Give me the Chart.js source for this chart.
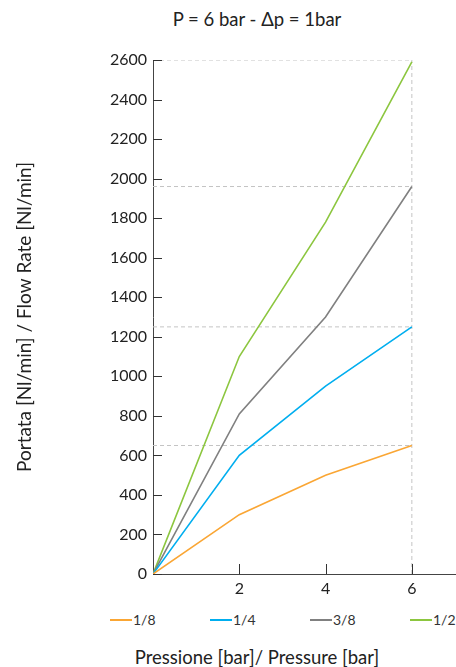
<!DOCTYPE html>
<html>
<head>
<meta charset="utf-8">
<script src="https://cdn.jsdelivr.net/npm/chart.js@4/dist/chart.umd.min.js"></script>
<style>
  body { margin: 0; background: #fff; font-family: Lato, sans-serif; color: #333; }
  #wrap { position: relative; width: 456px; height: 667px; }
  #chartBox { position: absolute; left: 0; top: 0; width: 456px; height: 600px; }
  #title { position: absolute; top: 8px; left: 157px; width: 200px; text-align: center; font-size: 18.5px; white-space: nowrap; color: #222; }
  #legend { position: absolute; top: 611px; left: 0; width: 456px; height: 18px; font-size: 14px; }
  #legend .item { position: absolute; top: 0; display: flex; align-items: center; }
  #legend .swatch { width: 22px; height: 2px; margin-right: 1px; }
  #xTitle { position: absolute; top: 646px; left: 107px; width: 300px; text-align: center; font-size: 18.5px; white-space: nowrap; color: #222; }
</style>
</head>
<body>
<div id="wrap">
  <div id="title">P = 6 bar - Δp = 1bar</div>
  <div id="chartBox"><canvas id="chart"></canvas></div>
  <div id="legend"></div>
  <div id="xTitle">Pressione [bar]/ Pressure [bar]</div>
</div>
<script>
// pressure [bar] on x
const pressures = [0, 2, 4, 6];
const xTicks = [2, 4, 6];

// flow rate [Nl/min] per connection size
const seriesNames = ['1/8', '1/4', '3/8', '1/2'];
const flow18 = [0, 300, 500, 650];
const flow14 = [0, 600, 950, 1250];
const flow38 = [0, 810, 1300, 1960];
const flow12 = [0, 1100, 1780, 2590];
const seriesColors = ['#FAA634', '#00AEEF', '#808080', '#8CC63F'];

// dashed guide lines at the end values
const refLevels = [650, 1250, 1960, 2600];
const refPressure = 6;

const allFlows = [flow18, flow14, flow38, flow12];

const datasets = allFlows.map((vals, i) => ({
  label: seriesNames[i],
  data: pressures.map((p, j) => ({ x: p, y: vals[j] })),
  borderColor: seriesColors[i],
  borderWidth: 1.6,
  pointRadius: 0,
  tension: 0,
  order: 0
}));

// horizontal guides
refLevels.forEach(level => {
  datasets.push({
    label: 'ref',
    data: [{ x: 0, y: level }, { x: refPressure, y: level }],
    borderColor: '#c4c4c4',
    borderWidth: 1,
    borderDash: [4, 3],
    pointRadius: 0,
    order: 1
  });
});
// vertical guide
datasets.push({
  label: 'ref',
  data: [{ x: refPressure, y: 0 }, { x: refPressure, y: 2600 }],
  borderColor: '#c4c4c4',
  borderWidth: 1,
  borderDash: [4, 3],
  pointRadius: 0,
  order: 1
});

// tick marks pointing into the plot
const innerTicks = {
  id: 'innerTicks',
  afterDraw(chart) {
    const { ctx, scales: { x, y } } = chart;
    ctx.save();
    ctx.strokeStyle = '#333';
    ctx.lineWidth = 1;
    ctx.beginPath();
    xTicks.forEach(v => {
      const px = Math.round(x.getPixelForValue(v)) + 0.5;
      ctx.moveTo(px, y.bottom);
      ctx.lineTo(px, y.bottom - 10);
    });
    y.ticks.forEach(t => {
      const py = Math.round(y.getPixelForValue(t.value)) + 0.5;
      ctx.moveTo(x.left, py);
      ctx.lineTo(x.left + 9, py);
    });
    ctx.stroke();
    ctx.restore();
  }
};

new Chart(document.getElementById('chart'), {
  type: 'line',
  data: { datasets },
  plugins: [innerTicks],
  options: {
    responsive: true,
    maintainAspectRatio: false,
    animation: false,
    layout: { padding: { top: 60, right: 1, left: 0, bottom: 0 } },
    plugins: {
      legend: { display: false },
      tooltip: { enabled: false }
    },
    scales: {
      x: {
        type: 'linear',
        min: 0,
        max: 7,
        afterBuildTicks: axis => { axis.ticks = xTicks.map(v => ({ value: v })); },
        afterFit: axis => { axis.height = 26; },
        grid: { display: false, drawTicks: false },
        border: { display: true, color: '#444', width: 1 },
        ticks: { padding: 5, color: '#222', font: { family: 'Lato', size: 16 } }
      },
      y: {
        min: 0,
        max: 2600,
        afterFit: axis => { axis.width = 153; },
        grid: { display: false, drawTicks: false },
        border: { display: true, color: '#444', width: 1 },
        ticks: {
          stepSize: 200,
          padding: 6,
          color: '#222',
          font: { family: 'Lato', size: 16 },
          callback: v => String(v)
        },
        title: {
          display: true,
          text: 'Portata [Nl/min] / Flow Rate [Nl/min]',
          color: '#222',
          font: { family: 'Lato', size: 19 },
          padding: { top: 13, bottom: 0 }
        }
      }
    }
  }
});

// legend row
const legend = document.getElementById('legend');
seriesNames.forEach((name, i) => {
  const item = document.createElement('div');
  item.className = 'item';
  item.style.left = (110 + i * 100) + 'px';
  item.innerHTML = '<span class="swatch" style="background:' + seriesColors[i] + '"></span><span>' + name + '</span>';
  legend.appendChild(item);
});
</script>
</body>
</html>
